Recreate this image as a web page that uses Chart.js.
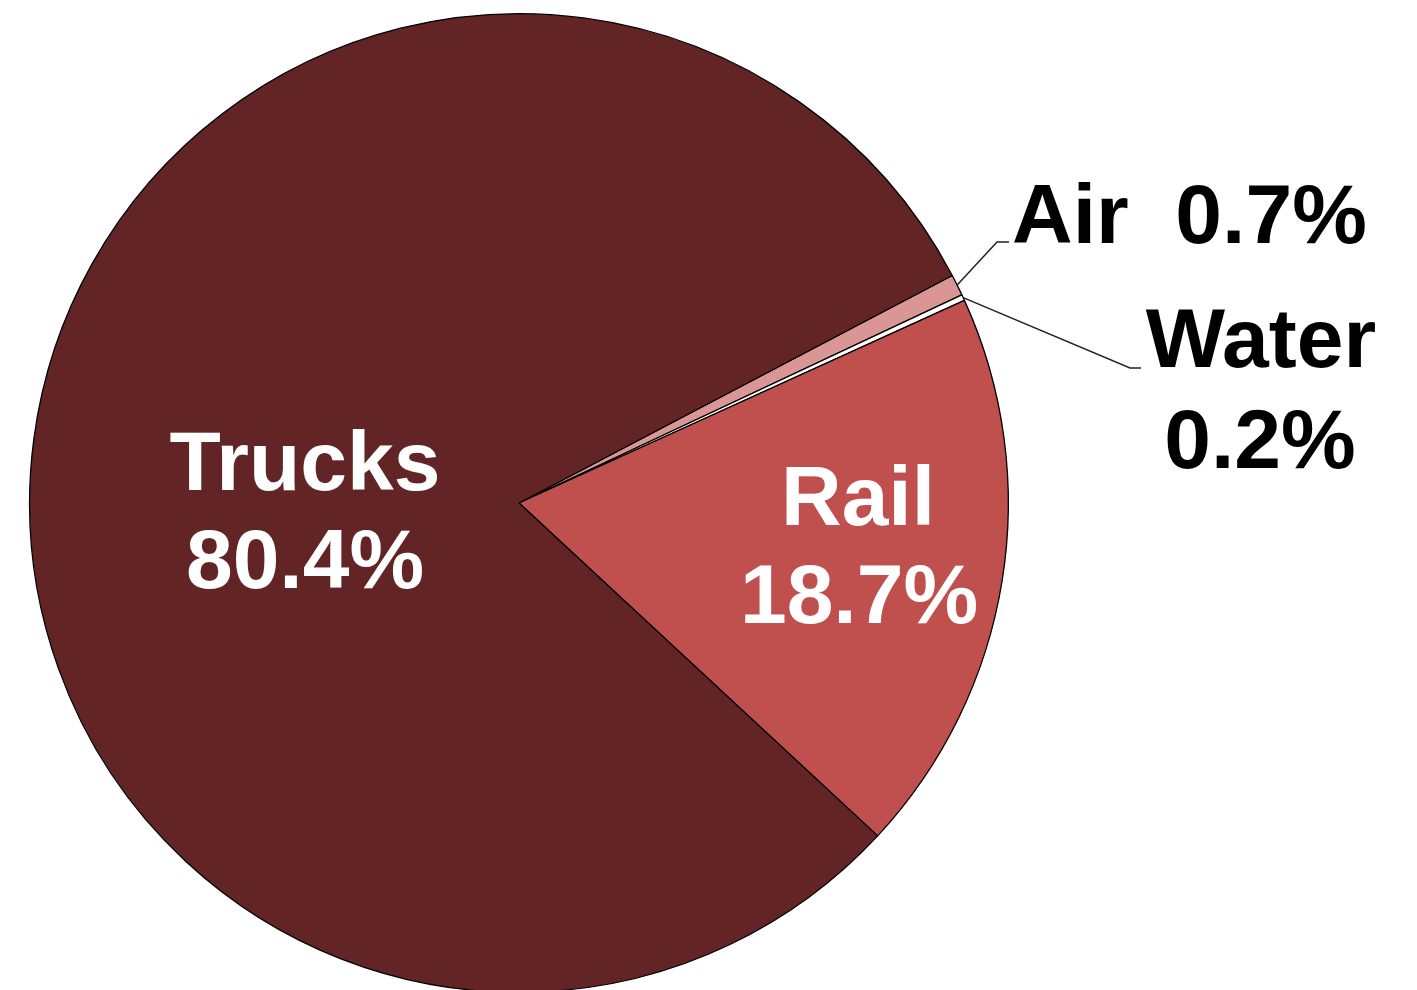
<!DOCTYPE html>
<html>
<head>
<meta charset="utf-8">
<script src="https://cdn.jsdelivr.net/npm/chart.js@4"></script>
<style>
  html, body { margin: 0; padding: 0; overflow: hidden; background: #fff; }
  #wrap { width: 1417px; height: 996px; }
</style>
</head>
<body>
<div id="wrap"><canvas id="pie"></canvas></div>
<script>
// data
const modes   = ['Air', 'Water', 'Rail', 'Trucks'];
const shares  = [0.7, 0.2, 18.7, 80.4];
const colours = ['#D99694', '#FFFFFF', '#C0504D', '#632425'];

const FONT = 'bold 84px "Liberation Sans", Arial, sans-serif';

// label drawing, leader lines for the two thin slices
const labelPlugin = {
  id: 'labels',
  afterDraw(chart) {
    const ctx = chart.ctx;
    const arcs = chart.getDatasetMeta(0).data;
    ctx.save();
    ctx.font = FONT;
    ctx.textBaseline = 'alphabetic';

    // inside labels
    ctx.fillStyle = '#fff';
    ctx.textAlign = 'center';
    ctx.fillText(modes[3], 305, 490);
    ctx.fillText(shares[3].toFixed(1) + '%', 305, 588);
    ctx.fillText(modes[2], 858, 525);
    ctx.fillText(shares[2].toFixed(1) + '%', 859, 623);

    // leader lines from slice edge
    const edge = (a) => {
      const mid = (a.startAngle + a.endAngle) / 2;
      return [a.x + Math.cos(mid) * a.outerRadius, a.y + Math.sin(mid) * a.outerRadius];
    };
    ctx.strokeStyle = '#222';
    ctx.lineWidth = 1.5;
    let p = edge(arcs[0]);
    ctx.beginPath();
    ctx.moveTo(p[0], p[1]);
    ctx.lineTo(997, 242);
    ctx.lineTo(1009, 242);
    ctx.stroke();
    p = edge(arcs[1]);
    ctx.beginPath();
    ctx.moveTo(p[0], p[1]);
    ctx.lineTo(1130, 368);
    ctx.lineTo(1141, 368);
    ctx.stroke();

    // outside labels
    ctx.fillStyle = '#000';
    ctx.textAlign = 'left';
    ctx.fillText(modes[0] + '  ' + shares[0].toFixed(1) + '%', 1012, 243);
    ctx.textAlign = 'center';
    ctx.fillText(modes[1], 1261, 367);
    ctx.fillText(shares[1].toFixed(1) + '%', 1260, 468);
    ctx.restore();
  }
};

new Chart(document.getElementById('pie'), {
  type: 'pie',
  data: {
    labels: modes,
    datasets: [{
      data: shares,
      backgroundColor: colours,
      borderColor: '#000',
      borderWidth: 1.3
    }]
  },
  options: {
    responsive: true,
    maintainAspectRatio: false,
    animation: false,
    rotation: 62.3,
    layout: { padding: { left: 29, right: 408, top: 13, bottom: 3 } },
    plugins: {
      legend: { display: false },
      tooltip: { enabled: false }
    }
  },
  plugins: [labelPlugin]
});
</script>
</body>
</html>
